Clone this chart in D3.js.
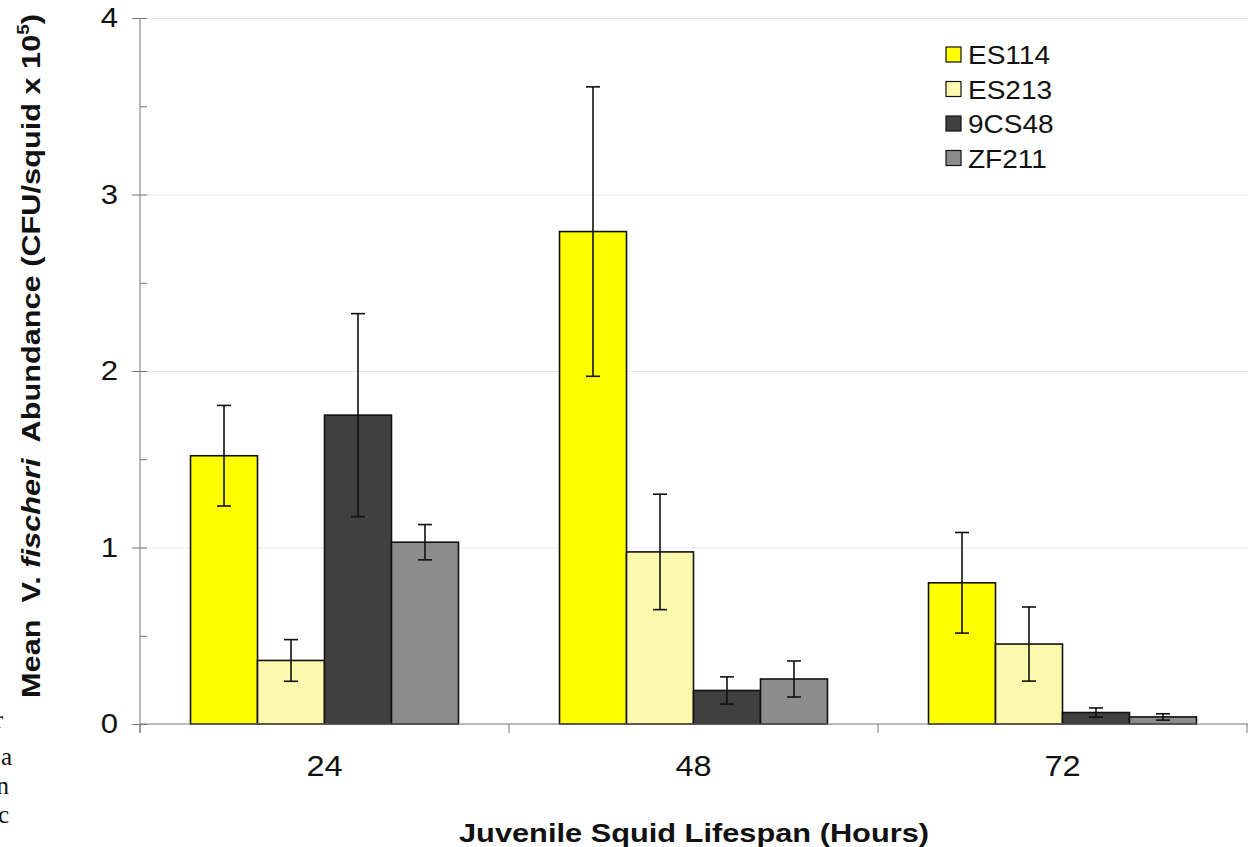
<!DOCTYPE html>
<html>
<head>
<meta charset="utf-8">
<script src="https://cdn.jsdelivr.net/npm/d3@7"></script>
<style>
  html, body { margin: 0; padding: 0; background: #fff; }
  svg { display: block; }
  text { font-family: Arial, "Liberation Sans", sans-serif; fill: #111; }
</style>
</head>
<body>
<svg id="chart" width="1248" height="847"></svg>
<script>
// chart values
const categories = ['24', '48', '72'];
const strains = ['ES114', 'ES213', '9CS48', 'ZF211'];
const es114 = [1.52, 2.79, 0.80];
const es213 = [0.36, 0.975, 0.453];
const cs48 = [1.75, 0.19, 0.065];
const zf211 = [1.03, 0.255, 0.04];
const es114Err = [0.285, 0.82, 0.285];
const es213Err = [0.118, 0.327, 0.21];
const cs48Err = [0.575, 0.077, 0.026];
const zf211Err = [0.10, 0.102, 0.018];
const yTicks = [0, 1, 2, 3, 4];
const yMinor = [0.5, 1.5, 2.5, 3.5];
const colours = ['#ffff00', '#fbf9ac', '#404040', '#8c8c8c'];

const svg = d3.select('#chart');
const plotLeft = 140, plotRight = 1247, plotTop = 18, plotBottom = 724;

const x0 = d3.scaleBand().domain(categories).range([plotLeft, plotRight]).padding(0);
const x1 = d3.scaleBand().domain(strains).range([0, x0.bandwidth()])
  .paddingInner(0).paddingOuter(0.754);
const y = d3.scaleLinear().domain([0, 4]).range([plotBottom, plotTop]);

const means = [es114, es213, cs48, zf211];
const errs = [es114Err, es213Err, cs48Err, zf211Err];
const rows = [];
strains.forEach(function(s, i) {
  categories.forEach(function(c, j) {
    rows.push({strain: s, cat: c, v: means[i][j], e: errs[i][j], col: colours[i]});
  });
});

// stretch text a little wider, like the original
function widen(sel, k) {
  sel.each(function() {
    const w = this.getComputedTextLength();
    d3.select(this).attr('textLength', w * k).attr('lengthAdjust', 'spacingAndGlyphs');
  });
}

// gridlines
svg.append('g')
  .attr('transform', 'translate(' + plotLeft + ',0)')
  .call(d3.axisRight(y).tickValues(yTicks.slice(1)).tickSize(1108).tickFormat(''))
  .call(function(g) { g.select('.domain').remove(); })
  .selectAll('line').attr('stroke', '#e6e6e6').attr('stroke-width', 1);

// bars
svg.append('g').selectAll('rect')
  .data(rows)
  .enter().append('rect')
  .attr('x', function(d) { return x0(d.cat) + x1(d.strain); })
  .attr('y', function(d) { return y(d.v); })
  .attr('width', x1.bandwidth())
  .attr('height', function(d) { return y(0) - y(d.v); })
  .attr('fill', function(d) { return d.col; })
  .attr('stroke', '#111')
  .attr('stroke-width', 1.6);

// error bars
const eb = svg.append('g').attr('stroke', '#111').attr('stroke-width', 1.6);
const cx = function(d) { return x0(d.cat) + x1(d.strain) + x1.bandwidth() / 2; };
eb.selectAll('line.v').data(rows).enter().append('line')
  .attr('x1', cx).attr('x2', cx)
  .attr('y1', function(d) { return y(d.v + d.e); })
  .attr('y2', function(d) { return y(d.v - d.e); });
eb.selectAll('line.t').data(rows).enter().append('line')
  .attr('x1', function(d) { return cx(d) - 7; }).attr('x2', function(d) { return cx(d) + 7; })
  .attr('y1', function(d) { return y(d.v + d.e); })
  .attr('y2', function(d) { return y(d.v + d.e); });
eb.selectAll('line.b').data(rows).enter().append('line')
  .attr('x1', function(d) { return cx(d) - 7; }).attr('x2', function(d) { return cx(d) + 7; })
  .attr('y1', function(d) { return y(d.v - d.e); })
  .attr('y2', function(d) { return y(d.v - d.e); });

// y axis: outer major ticks with labels, inner ticks
const yAxis = svg.append('g')
  .attr('transform', 'translate(' + plotLeft + ',0)')
  .call(d3.axisLeft(y).tickValues(yTicks).tickSize(8).tickPadding(14).tickFormat(d3.format('d')));
yAxis.select('.domain').remove();
yAxis.selectAll('line').attr('stroke', '#777');
yAxis.selectAll('text').attr('font-size', 27).attr('fill', '#111').call(widen, 1.15);

const yIn = svg.append('g')
  .attr('transform', 'translate(' + plotLeft + ',0)')
  .call(d3.axisRight(y).tickValues(yTicks.concat(yMinor)).tickSize(7).tickFormat(''));
yIn.select('.domain').remove();
yIn.selectAll('line').attr('stroke', '#777');

svg.append('line')
  .attr('x1', plotLeft).attr('x2', plotLeft).attr('y1', plotTop).attr('y2', plotBottom + 9)
  .attr('stroke', '#777');

// x axis
svg.append('line')
  .attr('x1', plotLeft).attr('x2', 1248).attr('y1', plotBottom).attr('y2', plotBottom)
  .attr('stroke', '#777');
const bounds = categories.map(function(c) { return x0(c); }).concat([plotRight]);
svg.append('g').selectAll('line')
  .data(bounds)
  .enter().append('line')
  .attr('x1', function(d) { return d; }).attr('x2', function(d) { return d; })
  .attr('y1', plotBottom).attr('y2', plotBottom + 9)
  .attr('stroke', '#777');
svg.append('g').selectAll('text')
  .data(categories)
  .enter().append('text')
  .attr('x', function(d) { return x0(d) + x0.bandwidth() / 2; })
  .attr('y', 776)
  .attr('text-anchor', 'middle')
  .attr('font-size', 29)
  .text(function(d) { return d; })
  .call(widen, 1.12);

// axis titles
svg.append('text')
  .attr('x', 694).attr('y', 842)
  .attr('text-anchor', 'middle')
  .attr('font-size', 26).attr('font-weight', 'bold')
  .text('Juvenile Squid Lifespan (Hours)')
  .attr('textLength', 470).attr('lengthAdjust', 'spacingAndGlyphs');

const yt = svg.append('text')
  .attr('transform', 'translate(40,356) rotate(-90)')
  .attr('text-anchor', 'middle')
  .attr('font-size', 26).attr('font-weight', 'bold');
yt.append('tspan').text('Mean\u00a0 V. ');
yt.append('tspan').attr('font-style', 'italic').text('fischeri');
yt.append('tspan').text('\u00a0 Abundance (CFU/squid x 10');
yt.append('tspan').attr('font-size', 16).attr('dy', -11).text('5');
yt.append('tspan').attr('dy', 11).text(')');
yt.attr('textLength', 684).attr('lengthAdjust', 'spacingAndGlyphs');

// legend
const lg = svg.append('g').selectAll('g')
  .data(strains)
  .enter().append('g')
  .attr('transform', function(d, i) { return 'translate(946,' + (55 + i * 34.5) + ')'; });
lg.append('rect')
  .attr('x', 0).attr('y', -8).attr('width', 15).attr('height', 15)
  .attr('fill', function(d, i) { return colours[i]; })
  .attr('stroke', '#111').attr('stroke-width', 1.2);
lg.append('text')
  .attr('x', 22).attr('y', 9)
  .attr('font-size', 25)
  .text(function(d) { return d; })
  .call(widen, 1.12);

// clipped bits of page text at the left edge (cut off in the original too)
const scraps = [['r', 3, 728], ['a', 12, 765], ['n', 9, 794], ['sc', 9, 823]];
svg.append('g').selectAll('text')
  .data(scraps)
  .enter().append('text')
  .attr('x', function(d) { return d[1]; })
  .attr('y', function(d) { return d[2]; })
  .attr('text-anchor', 'end')
  .style('font-family', '"Liberation Serif", "DejaVu Serif", serif')
  .attr('font-size', 25)
  .text(function(d) { return d[0]; });
</script>
</body>
</html>
